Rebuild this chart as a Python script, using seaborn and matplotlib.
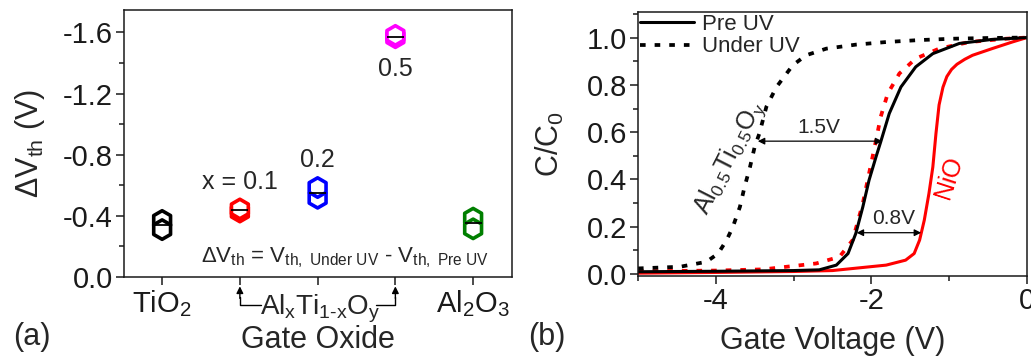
import numpy as np
import pandas as pd
import matplotlib
matplotlib.use("Agg")
import matplotlib.pyplot as plt
import matplotlib.transforms as mtrans
from matplotlib.lines import Line2D
import seaborn as sns

# ---------------- data: panel (a) ----------------
oxides = ["TiO2", "x0.1", "x0.2", "x0.5", "Al2O3"]
oxide_colors = ["#000000", "#ff0000", "#0000ff", "#ff00ff", "#007f00"]
dvth_TiO2 = [-0.37, -0.31]
dvth_x01 = [-0.425, -0.445]
dvth_x02 = [-0.515, -0.585]
dvth_x05 = [-1.565, -1.58]
dvth_Al2O3 = [-0.385, -0.315]
xtick_labels = ["TiO$_2$", "", "", "", "Al$_2$O$_3$"]
point_labels = ["", "x = 0.1", "0.2", "0.5", ""]

# ---------------- data: panel (b) ----------------
alti_under_v = [-5.0, -4.46, -4.12, -3.97, -3.86, -3.78, -3.69, -3.63, -3.56, -3.50,
                -3.44, -3.35, -3.22, -3.01, -2.84, -2.58, -2.2, -1.81, -1.4, -0.96, -0.5, 0.0]
alti_under_c = [0.024, 0.031, 0.052, 0.087, 0.144, 0.200, 0.284, 0.369, 0.453, 0.538,
                0.594, 0.707, 0.791, 0.883, 0.925, 0.953, 0.970, 0.981, 0.989, 0.995, 0.998, 1.0]

pre_v = [-5.0, -4.0, -3.0, -2.67, -2.45, -2.30, -2.20, -2.11, -2.03, -1.94, -1.88,
         -1.77, -1.62, -1.43, -1.21, -0.87, -0.45, 0.0]
pre_c = [0.010, 0.012, 0.015, 0.018, 0.038, 0.087, 0.172, 0.284, 0.397, 0.496, 0.559,
         0.679, 0.791, 0.876, 0.932, 0.975, 0.992, 1.0]

nio_under_v = [-5.0, -4.0, -3.39, -2.71, -2.41, -2.24, -2.11, -2.03, -1.94, -1.88, -1.79,
               -1.64, -1.43, -1.13, -0.74, -0.27, 0.0]
nio_under_c = [0.012, 0.015, 0.020, 0.045, 0.073, 0.144, 0.299, 0.425, 0.566, 0.665, 0.763,
               0.848, 0.911, 0.953, 0.981, 0.995, 1.0]

nio_pre_v = [-5.0, -4.0, -3.0, -2.5, -1.81, -1.56, -1.45, -1.38, -1.32, -1.26, -1.21, -1.17,
             -1.13, -1.08, -1.03, -0.97, -0.90, -0.80, -0.70, -0.45, -0.19, 0.0]
nio_pre_c = [0.004, 0.007, 0.011, 0.015, 0.038, 0.059, 0.087, 0.144, 0.228, 0.341, 0.453, 0.594,
             0.715, 0.790, 0.835, 0.865, 0.887, 0.908, 0.925, 0.953, 0.981, 1.0]

# ---------------- style ----------------
sns.set_theme(style="ticks")
plt.rcParams["font.family"] = ["Liberation Sans", "DejaVu Sans"]
plt.rcParams["mathtext.fontset"] = "custom"
plt.rcParams["mathtext.rm"] = "Liberation Sans"
plt.rcParams["mathtext.it"] = "Liberation Sans:italic"
plt.rcParams["mathtext.bf"] = "Liberation Sans:bold"
plt.rcParams["axes.linewidth"] = 1.1
plt.rcParams["axes.edgecolor"] = "#1a1a1a"
plt.rcParams["xtick.color"] = "#1a1a1a"
plt.rcParams["ytick.color"] = "#1a1a1a"

TICK_FS = 21
LABEL_FS = 22

fig = plt.figure(figsize=(10.31, 3.59), dpi=100)
axa = fig.add_axes([0.1203, 0.2284, 0.3763, 0.7437])
axb = fig.add_axes([0.6188, 0.2312, 0.3773, 0.7354])

# ---------------- panel (a) ----------------
vals = [dvth_TiO2, dvth_x01, dvth_x02, dvth_x05, dvth_Al2O3]
df = pd.DataFrame({
    "oxide": [o for o, v in zip(oxides, vals) for _ in v],
    "dvth": [x for v in vals for x in v],
})
pal = dict(zip(oxides, oxide_colors))
sns.boxplot(data=df, x="oxide", y="dvth", hue="oxide", order=oxides, hue_order=oxides,
            palette=pal, saturation=1, width=0.22, fill=True, dodge=False, legend=False,
            linewidth=1.0, showfliers=False, whis=0, showcaps=False,
            boxprops={"edgecolor": "none"},
            medianprops={"color": "black", "linewidth": 1.3, "zorder": 5}, ax=axa)
n_before = len(axa.collections)
sns.stripplot(data=df, x="oxide", y="dvth", hue="oxide", order=oxides, hue_order=oxides,
              palette=pal, jitter=False, dodge=False, marker="h", size=14,
              linewidth=2.6, legend=False, ax=axa)
for coll in axa.collections[n_before:]:
    fc = coll.get_facecolor()
    coll.set_edgecolor(fc)
    coll.set_facecolor("white")
    coll.set_zorder(3)

axa.set_xlim(-0.49, 4.50)
axa.set_ylim(0, -1.746)
axa.set_yticks([0.0, -0.4, -0.8, -1.2, -1.6])
axa.set_yticklabels(["0.0", "-0.4", "-0.8", "-1.2", "-1.6"])
axa.set_yticks([-0.2, -0.6, -1.0, -1.4], minor=True)
axa.set_xticks(range(len(oxides)))
axa.set_xticklabels(xtick_labels)
axa.tick_params(axis="both", which="major", labelsize=TICK_FS, length=6, width=1.1,
                direction="out", pad=2)
axa.tick_params(axis="y", which="minor", length=3.5, width=1.1, direction="out")
axa.set_xlabel("Gate Oxide", fontsize=LABEL_FS)
axa.xaxis.set_label_coords(0.5, -0.236)
axa.xaxis.label.set_va("center")
axa.set_ylabel(r"$\Delta$V$_{\rm th}$ (V)", fontsize=LABEL_FS)
axa.yaxis.set_label_coords(-0.242, 0.5)
axa.yaxis.label.set_va("center")
for sp in axa.spines.values():
    sp.set_visible(True)

label_y = [None, -0.62, -0.765, -1.36, None]
for i, (lab, ly) in enumerate(zip(point_labels, label_y)):
    if lab:
        axa.text(i, ly, lab, ha="center", va="center", fontsize=18)
axa.text(2.35, -0.125, r"$\Delta$V$_{\rm th}$ = V$_{\rm th,\ Under\ UV}$ - V$_{\rm th,\ Pre\ UV}$",
         ha="center", va="center", fontsize=16)

# bracket for AlxTi1-xOy
trans = mtrans.blended_transform_factory(axa.transData, axa.transAxes)
yb = -0.105
for xi, xe in [(1, 1.27), (3, 2.75)]:
    axa.plot([xe, xi, xi], [yb, yb, -0.075], transform=trans, color="black", lw=1.0,
             clip_on=False)
    axa.annotate("", xy=(xi, -0.035), xytext=(xi, -0.08), xycoords=trans, textcoords=trans,
                 arrowprops=dict(arrowstyle="-|>", color="black", lw=1.0,
                                 mutation_scale=10, shrinkA=0, shrinkB=0))
axa.text(2.03, -0.12, r"Al$_{\rm x}$Ti$_{\rm 1\text{-}x}$O$_{\rm y}$", transform=trans,
         ha="center", va="center", fontsize=20)
fig.text(0.031, 0.06, "(a)", fontsize=LABEL_FS, ha="center", va="center")

# ---------------- panel (b) ----------------
dot = (0, (1.5, 2.4))
sns.lineplot(x=nio_pre_v, y=nio_pre_c, color="red", lw=2.2, sort=False, estimator=None, ax=axb)
sns.lineplot(x=nio_under_v, y=nio_under_c, color="red", lw=2.7, linestyle=dot, sort=False,
             estimator=None, ax=axb)
sns.lineplot(x=pre_v, y=pre_c, color="black", lw=2.2, sort=False, estimator=None, ax=axb)
sns.lineplot(x=alti_under_v, y=alti_under_c, color="black", lw=2.7, linestyle=dot, sort=False,
             estimator=None, ax=axb)

axb.set_xlim(-5, 0)
axb.set_ylim(-0.008, 1.108)
axb.set_xticks([-4, -2, 0])
axb.set_xticklabels(["-4", "-2", "0"])
axb.set_xticks([-5, -3, -1], minor=True)
axb.set_yticks([0.0, 0.2, 0.4, 0.6, 0.8, 1.0])
axb.set_yticklabels(["0.0", "0.2", "0.4", "0.6", "0.8", "1.0"])
axb.set_yticks([0.1, 0.3, 0.5, 0.7, 0.9, 1.1], minor=True)
axb.tick_params(axis="both", which="major", labelsize=TICK_FS, length=6, width=1.1,
                direction="out", pad=2)
axb.tick_params(axis="both", which="minor", length=3.5, width=1.1, direction="out")
axb.set_xlabel("Gate Voltage (V)", fontsize=LABEL_FS)
axb.xaxis.set_label_coords(0.5, -0.245)
axb.xaxis.label.set_va("center")
axb.set_ylabel("C/C$_0$", fontsize=LABEL_FS)
axb.yaxis.set_label_coords(-0.226, 0.5)
axb.yaxis.label.set_va("center")
for sp in axb.spines.values():
    sp.set_visible(True)

handles = [Line2D([], [], color="black", lw=2.2),
           Line2D([], [], color="black", lw=2.7, linestyle=dot)]
axb.legend(handles, ["Pre UV", "Under UV"], loc="upper left", frameon=False, fontsize=16,
           handlelength=2.4, handletextpad=0.4, borderaxespad=0.05, labelspacing=0.05,
           borderpad=0.05)

axb.annotate("", xy=(-3.46, 0.562), xytext=(-1.86, 0.562),
             arrowprops=dict(arrowstyle="<|-|>", color="black", lw=0.9, mutation_scale=10,
                             shrinkA=0, shrinkB=0))
axb.text(-2.67, 0.62, "1.5V", ha="center", va="center", fontsize=15)
axb.annotate("", xy=(-2.19, 0.175), xytext=(-1.36, 0.175),
             arrowprops=dict(arrowstyle="<|-|>", color="black", lw=0.9, mutation_scale=10,
                             shrinkA=0, shrinkB=0))
axb.text(-1.72, 0.235, "0.8V", ha="center", va="center", fontsize=15)
axb.text(-3.82, 0.49, r"Al$_{0.5}$Ti$_{0.5}$O$_{\rm y}$", rotation=63, ha="center", va="center",
         fontsize=18)
axb.text(-1.0, 0.41, "NiO", rotation=72, ha="center", va="center", fontsize=18, color="red")
fig.text(0.530, 0.06, "(b)", fontsize=LABEL_FS, ha="center", va="center")

fig.savefig("out.png", dpi=100)
